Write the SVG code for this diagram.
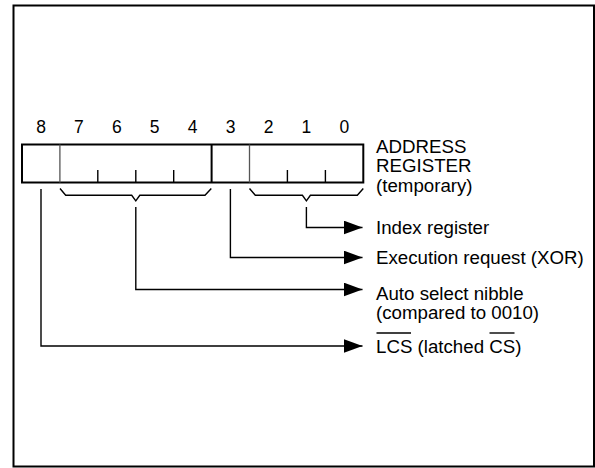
<svg xmlns="http://www.w3.org/2000/svg" width="595" height="468" viewBox="0 0 595 468">
<style>
.t{font-family:"Liberation Sans",Arial,sans-serif;font-size:18.7px;fill:#000}
.d{font-family:"Liberation Sans",Arial,sans-serif;font-size:17.5px;fill:#000;text-anchor:middle}
.ln{stroke:#000;stroke-width:1.4;fill:none}
.thin{stroke:#555;stroke-width:1.3;fill:none}
</style>
<defs>
<marker id="ah" markerUnits="userSpaceOnUse" markerWidth="20" markerHeight="16" refX="19" refY="7" orient="auto">
<path d="M0,0 L19,7 L0,14 Z" fill="#000"/>
</marker>
</defs>
<rect x="13.5" y="5.5" width="580.5" height="461" fill="#fff" stroke="#000" stroke-width="2"/>
<g id="register">
<rect x="22" y="144.5" width="341.3" height="38" fill="#fff" stroke="#000" stroke-width="2"/>
<line class="thin" x1="59.9" y1="144.5" x2="59.9" y2="182.5"/>
<line x1="211.6" y1="144.5" x2="211.6" y2="182.5" stroke="#000" stroke-width="2"/>
<line class="thin" x1="249.5" y1="144.5" x2="249.5" y2="182.5"/>
<g class="ln">
<line x1="97.8" y1="170" x2="97.8" y2="182.5"/>
<line x1="135.8" y1="170" x2="135.8" y2="182.5"/>
<line x1="173.7" y1="170" x2="173.7" y2="182.5"/>
<line x1="287.4" y1="170" x2="287.4" y2="182.5"/>
<line x1="325.4" y1="170" x2="325.4" y2="182.5"/>
</g>
<text class="d" x="41" y="132.7">8</text>
<text class="d" x="78.9" y="132.7">7</text>
<text class="d" x="116.8" y="132.7">6</text>
<text class="d" x="154.7" y="132.7">5</text>
<text class="d" x="192.7" y="132.7">4</text>
<text class="d" x="230.6" y="132.7">3</text>
<text class="d" x="268.5" y="132.7">2</text>
<text class="d" x="306.4" y="132.7">1</text>
<text class="d" x="344.3" y="132.7">0</text>
<text class="t" x="376" y="153">ADDRESS</text>
<text class="t" x="376" y="172.3">REGISTER</text>
<text class="t" x="376" y="191.5">(temporary)</text>
</g>
<g id="braces" class="ln">
<path d="M60,188.5 L65.7,195.3 L131.7,195.3 L135.8,200.8 L139.8,195.3 L205,195.3 L211.3,188.5"/>
<path d="M249.5,188.5 L255.3,195.3 L302.4,195.3 L306.4,200.8 L310.4,195.3 L357.3,195.3 L363.3,188.5"/>
</g>
<g id="connectors" class="ln">
<path d="M306.4,207 L306.4,227.5 L362.5,227.5" marker-end="url(#ah)"/>
<path d="M230.4,189 L230.4,257.5 L362.5,257.5" marker-end="url(#ah)"/>
<path d="M135.8,207 L135.8,289.5 L362.5,289.5" marker-end="url(#ah)"/>
<path d="M41,189 L41,346 L362.5,346" marker-end="url(#ah)"/>
</g>
<g id="labels">
<text class="t" x="376" y="234">Index register</text>
<text class="t" x="376" y="264">Execution request (XOR)</text>
<text class="t" x="376" y="300">Auto select nibble</text>
<text class="t" x="376" y="319">(compared to 0010)</text>
<text class="t" x="376" y="352.7">LCS (latched CS)</text>
<line class="ln" x1="376.5" y1="333" x2="411" y2="333"/>
<line class="ln" x1="489.5" y1="333" x2="514.5" y2="333"/>
</g>
</svg>
